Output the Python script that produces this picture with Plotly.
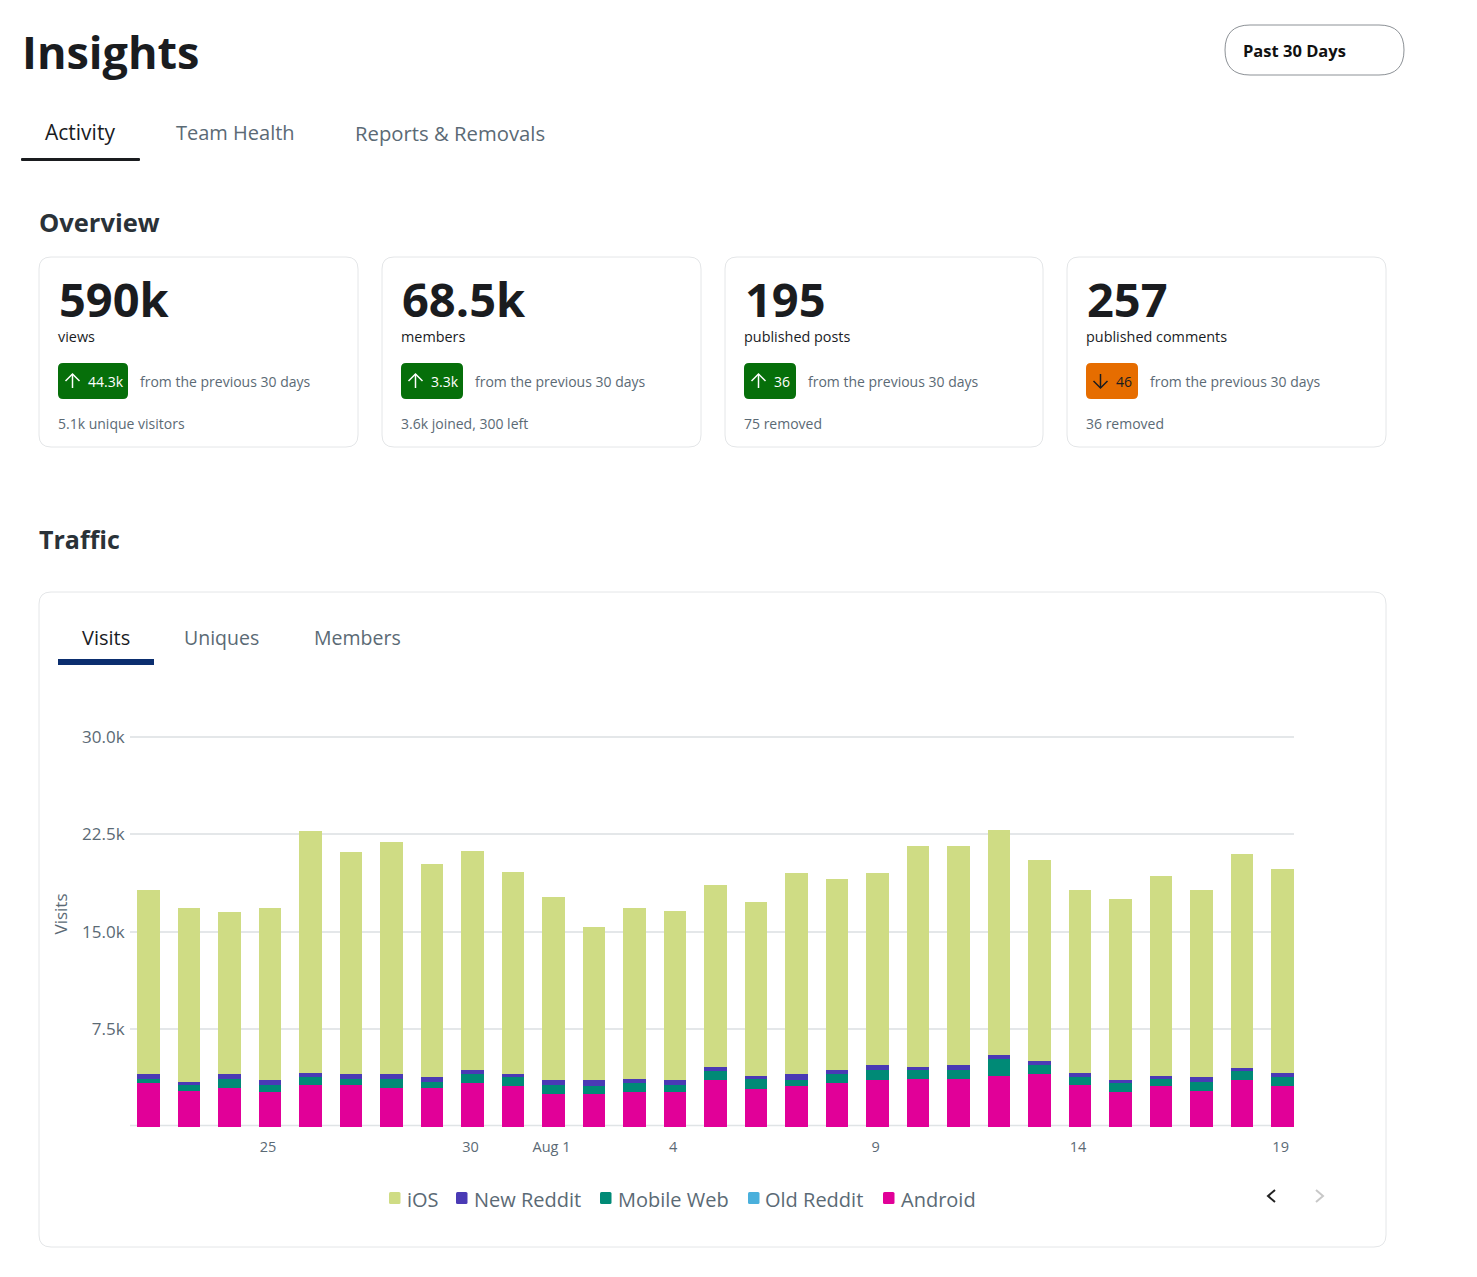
import plotly.graph_objects as go

W = 1477; H = 1277
FONT = "Open Sans"
DARK = "#1a1c1f"; GRAY = "#5b6a75"; BORDER = "#e4e6e8"

# bar data, Jul 22 .. Aug 19
days = [f"Jul {d}" for d in range(22, 32)] + [f"Aug {d}" for d in range(1, 20)]
android = [3381, 2767, 3023, 2715, 3228, 3228, 3023, 3023, 3381, 3176, 2561, 2561, 2715, 2715, 3637,
           2920, 3176, 3381, 3637, 3689, 3689, 3945, 4098, 3228, 2715, 3176, 2767, 3637, 3176]
old_reddit = [0] * 29
mobile_web = [307, 461, 666, 512, 615, 461, 666, 435, 692, 666, 666, 589, 666, 512, 666,
              768, 435, 692, 743, 692, 692, 1281, 666, 615, 666, 512, 692, 666, 666]
new_reddit = [384, 231, 384, 384, 307, 384, 384, 384, 307, 231, 384, 461, 307, 384, 307,
              231, 461, 307, 384, 231, 384, 307, 307, 307, 231, 231, 384, 231, 307]
ios = [14140, 13372, 12450, 13218, 18598, 17061, 17829, 16369, 16830, 15524, 14064, 11758, 13141, 12988, 13987,
       13372, 15447, 14678, 14755, 16984, 16830, 17291, 15447, 14064, 13910, 15370, 14371, 16446, 15677]

xtick_days = ["Jul 25", "Jul 30", "Aug 1", "Aug 4", "Aug 9", "Aug 14", "Aug 19"]
xtick_text = ["25", "30", "Aug 1", "4", "9", "14", "19"]
ytick_vals = [7500, 15000, 22500, 30000]
ytick_text = ["7.5k", "15.0k", "22.5k", "30.0k"]

# overview cards
stat_values = ["590k", "68.5k", "195", "257"]
stat_labels = ["views", "members", "published posts", "published comments"]
stat_deltas = ["44.3k", "3.3k", "36", "46"]
stat_notes = ["5.1k unique visitors", "3.6k joined, 300 left", "75 removed", "36 removed"]
card_x = [(39, 358), (382, 701), (725, 1043), (1067, 1386)]
pill_right = [128, 463, 796, 1138]
from_x = [140, 475, 808, 1150]

series = [("Android", android, "#e10098"), ("Old Reddit", old_reddit, "#4ab0dc"),
          ("Mobile Web", mobile_web, "#008a76"), ("New Reddit", new_reddit, "#4a3ab5"), ("iOS", ios, "#cfdc84")]
legend_items = [("iOS", "#cfdc84", 389), ("New Reddit", "#4a3ab5", 456), ("Mobile Web", "#008a76", 600),
                ("Old Reddit", "#4ab0dc", 748), ("Android", "#e10098", 883)]


def px(x):
    return x / W

def py(y):
    return 1 - y / H

def rrect(x0, y0, x1, y1, r, fill=None, line=None, lw=1):
    a, b, c, d = px(x0), py(y0), px(x1), py(y1)
    rx = r / W; ry = r / H
    path = (f"M{a+rx},{b} L{c-rx},{b} Q{c},{b} {c},{b-ry} L{c},{d+ry} Q{c},{d} {c-rx},{d} "
            f"L{a+rx},{d} Q{a},{d} {a},{d+ry} L{a},{b-ry} Q{a},{b} {a+rx},{b} Z")
    return dict(type="path", path=path, xref="paper", yref="paper", layer="below",
                fillcolor=fill or "rgba(0,0,0,0)", line=dict(color=line or "rgba(0,0,0,0)", width=lw if line else 0))

def poly(points, color, lw=1.5):
    path = "M" + " L".join(f"{px(x)},{py(y)}" for x, y in points)
    return dict(type="path", path=path, xref="paper", yref="paper", line=dict(color=color, width=lw))

def text(x, y, s, size, color=DARK, bold=False, anchor="left", angle=0):
    return dict(x=px(x), y=py(y), xref="paper", yref="paper", text=f"<b>{s}</b>" if bold else s, showarrow=False,
                xanchor=anchor, yanchor="middle", textangle=angle, borderpad=0, borderwidth=0,
                font=dict(family=FONT, size=size, color=color))


shapes = []
annos = [
    text(22, 52, "Insights", 45, bold=True),
    text(1243, 50.5, "<b>Past 30 Days</b>", 16.5, color="#111"),
    text(45, 132, "Activity", 21),
    text(176, 133, "Team Health", 20, color=GRAY),
    text(355, 132.5, "Reports &amp; Removals", 20.3, color=GRAY),
    text(39, 222, "Overview", 25.5, color="#2a3238", bold=True),
    text(39, 539, "Traffic", 25, color="#2a3238", bold=True),
    text(82, 638, "Visits", 20),
    text(184, 638, "Uniques", 19.5, color=GRAY),
    text(314, 638, "Members", 19.5, color=GRAY),
    text(59.5, 914, "Visits", 17, color=GRAY, anchor="center", angle=-90),
]
shapes.append(rrect(1225, 25, 1404, 75, 25, line="#8c9196", lw=1))
shapes.append(rrect(21, 158, 140, 161, 1, fill=DARK))
shapes.append(rrect(58, 659, 154, 665, 0.1, fill="#0b2e6f"))
shapes.append(rrect(39, 592, 1386, 1247, 12, line=BORDER))
# baseline
shapes.append(dict(type="line", xref="paper", yref="paper", layer="below", x0=px(130), x1=px(1294),
                   y0=py(1125.4), y1=py(1125.4), line=dict(color="#e0e4e6", width=1.5)))

for i, (x0, x1) in enumerate(card_x):
    left = x0 + 19
    up = stat_values[i] != "257"
    shapes.append(rrect(x0, 257, x1, 447, 12, line=BORDER))
    shapes.append(rrect(left, 363, pill_right[i], 399, 5, fill="#066f0a" if up else "#e66d00"))
    fg = "white" if up else DARK
    ax = left + 14.5
    if up:
        shapes.append(poly([(ax, 388), (ax, 374)], fg))
        shapes.append(poly([(ax - 7, 381), (ax, 374), (ax + 7, 381)], fg))
    else:
        shapes.append(poly([(ax, 374), (ax, 388)], fg))
        shapes.append(poly([(ax - 7, 381), (ax, 388), (ax + 7, 381)], fg))
    annos.append(text(left + 30, 381.5, stat_deltas[i], 14, color=fg))
    annos.append(text(left + 1, 299, stat_values[i], 47, bold=True))
    annos.append(text(left, 337, stat_labels[i], 14.4))
    annos.append(text(from_x[i], 382, "from the previous 30 days", 14, color=GRAY))
    annos.append(text(left, 424, stat_notes[i], 14, color=GRAY))

# legend
for name, color, x in legend_items:
    shapes.append(rrect(x, 1192, x + 11.5, 1204, 1.5, fill=color))
    annos.append(text(x + 17.5, 1199, name, 20, color=GRAY))

# pager chevrons
shapes.append(poly([(1275, 1190), (1268, 1196), (1275, 1202)], "#222", lw=2))
shapes.append(poly([(1316, 1190), (1323, 1196), (1316, 1202)], "#c8c8c8", lw=2))

fig = go.Figure()
for name, vals, color in series:
    fig.add_trace(go.Bar(x=days, y=vals, name=name, width=0.556, marker=dict(color=color, line=dict(width=0)), showlegend=False))

fig.update_layout(
    width=W, height=H, barmode="stack", paper_bgcolor="white", plot_bgcolor="white",
    margin=dict(l=0, r=0, t=0, b=0, pad=0), showlegend=False, shapes=shapes, annotations=annos,
    font=dict(family=FONT, color=GRAY),
    xaxis=dict(domain=[px(130), px(1294)], type="category", categoryorder="array", categoryarray=days, automargin=False,
               range=[-0.457, 28.28], tickvals=xtick_days, ticktext=xtick_text, showgrid=False, zeroline=False,
               showline=False, ticks="outside", ticklen=7, tickcolor="rgba(0,0,0,0)", tickfont=dict(size=14.5, color=GRAY),
               tickangle=0, ticklabelshift=-2),
    # range runs a little past 30k so the top gridline still draws
    yaxis=dict(domain=[py(1127), py(735.4)], range=[0, 30100], tickvals=ytick_vals, ticktext=ytick_text, automargin=False,
               gridcolor="#e4e7e9", gridwidth=1.5, zeroline=False, showline=False, ticks="outside", ticklen=1,
               tickcolor="rgba(0,0,0,0)", tickfont=dict(size=17, color=GRAY)),
)

fig.write_html("out.html", config={"displayModeBar": False}, post_script="document.body.style.margin='0';")
